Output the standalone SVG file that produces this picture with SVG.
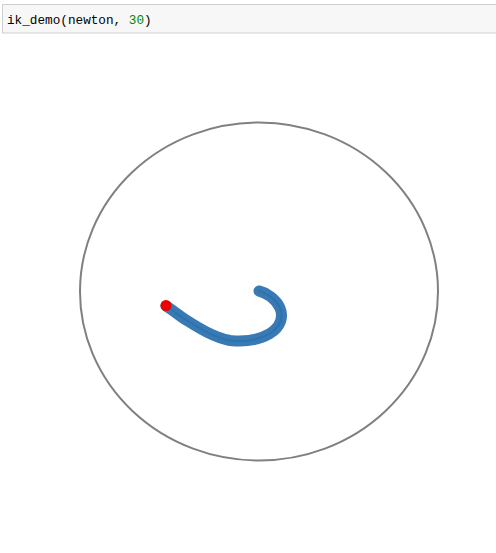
<svg xmlns="http://www.w3.org/2000/svg" width="496" height="553" viewBox="0 0 496 553">
<style>
.code{font-family:"Liberation Mono","DejaVu Sans Mono",monospace;font-size:12.7px;fill:#000}
.num{fill:#008800}
.arm{fill:none;stroke:#3a7ab4;stroke-width:11;stroke-linecap:round;stroke-linejoin:round}
.armc{fill:none;stroke:#2b73ae;stroke-width:2;stroke-linecap:round;stroke-linejoin:round}
</style>
<rect width="496" height="553" fill="#fff"/>
<g id="cell">
<rect x="2.5" y="4.5" width="500" height="28.5" fill="#f7f7f7" stroke="#cfcfcf" stroke-width="1"/>
<text class="code" x="7" y="23.5">ik_demo(newton, <tspan class="num">30</tspan>)</text>
</g>
<g id="workspace">
<ellipse cx="259" cy="291.5" rx="179" ry="169" fill="none" stroke="#808080" stroke-width="2"/>
</g>
<g id="connectors">
<path class="arm" d="M259,291 C266,292.5 276,299 280,308 C284,318 280,327 270,333.5 C258,340.5 243,342 230,340.5 C212,337 196,326 183,318 C176,313 171,309 166,306"/>
<path class="armc" d="M259,291 C266,292.5 276,299 280,308 C284,318 280,327 270,333.5 C258,340.5 243,342 230,340.5 C212,337 196,326 183,318 C176,313 171,309 166,306"/>
</g>
<g id="effector">
<circle cx="166" cy="305.5" r="5.5" fill="#ee0000"/>
</g>
</svg>
